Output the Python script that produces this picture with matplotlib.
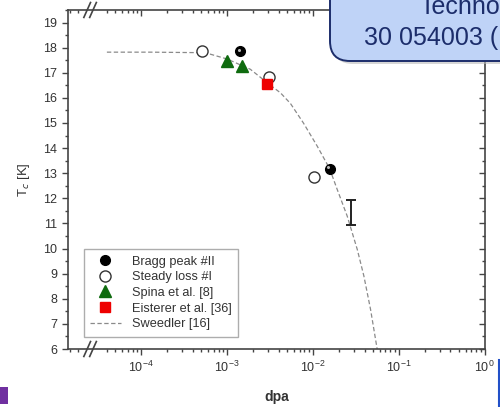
import numpy as np
import matplotlib
matplotlib.use("Agg")
import matplotlib.pyplot as plt
from matplotlib.patches import FancyBboxPatch, Rectangle
from matplotlib.ticker import FixedLocator, MultipleLocator, NullFormatter
from matplotlib.transforms import offset_copy

plt.rcParams['font.family'] = ['Liberation Sans', 'DejaVu Sans']
plt.rcParams['mathtext.fontset'] = 'custom'
plt.rcParams['mathtext.rm'] = 'Liberation Sans'

# data
bragg_x = [1.43e-3, 1.57e-2]
bragg_y = [17.87, 13.18]
steady_x = [5.1e-4, 3.12e-3, 1.03e-2]
steady_y = [17.87, 16.85, 12.85]
spina_x = [1.0e-3, 1.5e-3]
spina_y = [17.47, 17.25]
eisterer_x = [2.95e-3]
eisterer_y = [16.55]
err_x = [2.8e-2]
err_y = [11.44]
err_dy = [0.5]
sweedler_x = [4e-5, 1.3e-4, 4.9e-4, 6.4e-4, 1.0e-3, 1.87e-3, 2.95e-3, 4.2e-3, 5.48e-3, 7.77e-3,
              1.12e-2, 1.57e-2, 1.92e-2, 2.51e-2, 3.29e-2, 3.93e-2, 4.7e-2, 5.62e-2]
sweedler_y = [17.82, 17.82, 17.8, 17.74, 17.55, 17.14, 16.6, 16.2, 15.78, 15.0,
              14.09, 13.18, 12.36, 11.3, 9.97, 8.91, 7.58, 5.99]

fig = plt.figure(figsize=(5, 4.07), dpi=100)
ax = fig.add_axes([0.136, 0.1425, 0.834, 0.833])

ax.plot(sweedler_x, sweedler_y, color='#8a8a8a', lw=0.9, dashes=(3.5, 2), label='Sweedler [16]', zorder=2)
ax.errorbar(err_x, err_y, yerr=err_dy, fmt='none', ecolor='#222222', elinewidth=1.4, capsize=3.5, capthick=1.4)
ax.plot(bragg_x, bragg_y, 'o', color='black', ms=7, label='Bragg peak #II', zorder=4)
hl = offset_copy(ax.transData, fig=fig, x=-1.0, y=1.0, units='points')
ax.plot(bragg_x, bragg_y, 'o', color='#bbbbbb', ms=2.2, mec='none', transform=hl, zorder=5)
ax.plot(steady_x, steady_y, 'o', mfc='white', mec='#333333', mew=1.0, ms=8, label='Steady loss #I', zorder=3)
ax.plot(spina_x, spina_y, '^', color='#0f6b0f', ms=9, label='Spina et al. [8]', zorder=4)
ax.plot(eisterer_x, eisterer_y, 's', color='#ee0000', ms=6.5, label='Eisterer et al. [36]', zorder=4)

ax.set_xscale('log')
ax.set_xlim(1.41e-5, 10**0.005)
ax.set_ylim(6, 19.5)
ax.xaxis.set_major_locator(FixedLocator([1e-4, 1e-3, 1e-2, 1e-1, 1]))
minor = [1.5e-5, 1.85e-5] + [k * 10.0 ** e for e in range(-5, 0) for k in range(2, 10) if k * 10.0 ** e > 3.5e-5]
ax.xaxis.set_minor_locator(FixedLocator(minor))
ax.xaxis.set_minor_formatter(NullFormatter())
ax.yaxis.set_major_locator(MultipleLocator(1))
ax.yaxis.set_minor_locator(MultipleLocator(0.5))

for s in ax.spines.values():
    s.set_color('#444444')
    s.set_linewidth(1.2)
ax.tick_params(which='both', direction='out', top=True, right=True, colors='#444444',
               labelcolor='#333333', labelsize=9, width=1.0)
ax.tick_params(which='major', length=4.5)
ax.tick_params(which='minor', length=2.5)
ax.tick_params(axis='x', which='both', pad=3)

# axis break marks
for xb in (0.046, 0.060):
    for yb in (0.0, 1.0):
        ax.plot([xb - 0.008, xb + 0.008], [yb - 0.022, yb + 0.022], transform=ax.transAxes,
                color='#444444', lw=1.2, clip_on=False, zorder=6)

ax.set_xlabel('dpa', fontsize=10, fontweight='bold', color='#333333', labelpad=11)
ax.set_ylabel('T$_c$ [K]', fontsize=9.5, color='#333333', labelpad=8)

h, l = ax.get_legend_handles_labels()
order = [1, 2, 3, 4, 0]
leg = ax.legend([h[i] for i in order], [l[i] for i in order], loc='lower left',
                bbox_to_anchor=(0.022, 0.018), fontsize=9.2, frameon=True, fancybox=False,
                edgecolor='#999999', handlelength=2.4, labelspacing=0.28, borderpad=0.5,
                handletextpad=0.9, markerscale=1.0)
leg.get_frame().set_linewidth(1.0)
for t in leg.get_texts():
    t.set_color('#333333')

# slide decorations
shadow = FancyBboxPatch((3.33, 3.43), 2.2, 1.0, boxstyle='round,pad=0,rounding_size=0.2',
                        transform=fig.dpi_scale_trans, fc='#bbbbbb', ec='none', alpha=0.6, zorder=9)
box = FancyBboxPatch((3.30, 3.46), 2.2, 1.0, boxstyle='round,pad=0,rounding_size=0.2',
                     transform=fig.dpi_scale_trans, fc='#bfd3f7', ec='#1c2d6b', lw=1.4, zorder=10)
fig.add_artist(shadow)
fig.add_artist(box)
fig.text(4.20, 4.07 - 0.14, 'Techno', transform=fig.dpi_scale_trans, fontsize=18,
         color='#1c2d6b', va='baseline', ha='left', zorder=11)
fig.text(3.64, 4.07 - 0.45, '30 054003 (', transform=fig.dpi_scale_trans, fontsize=18,
         color='#1c2d6b', va='baseline', ha='left', zorder=11)
fig.add_artist(Rectangle((0, 0.03), 0.08, 0.17, transform=fig.dpi_scale_trans, fc='#7030a0', ec='none'))
fig.add_artist(plt.Line2D([4.985, 4.985], [0, 0.47], transform=fig.dpi_scale_trans, color='#2250c8', lw=1.5))

# right and top ticks point inward, left and bottom outward
fig.canvas.draw()
for t in ax.xaxis.get_major_ticks() + ax.xaxis.get_minor_ticks():
    t.tick2line.set_marker(3)
for t in ax.yaxis.get_major_ticks() + ax.yaxis.get_minor_ticks():
    t.tick2line.set_marker(0)

fig.savefig('out.png', dpi=100)
